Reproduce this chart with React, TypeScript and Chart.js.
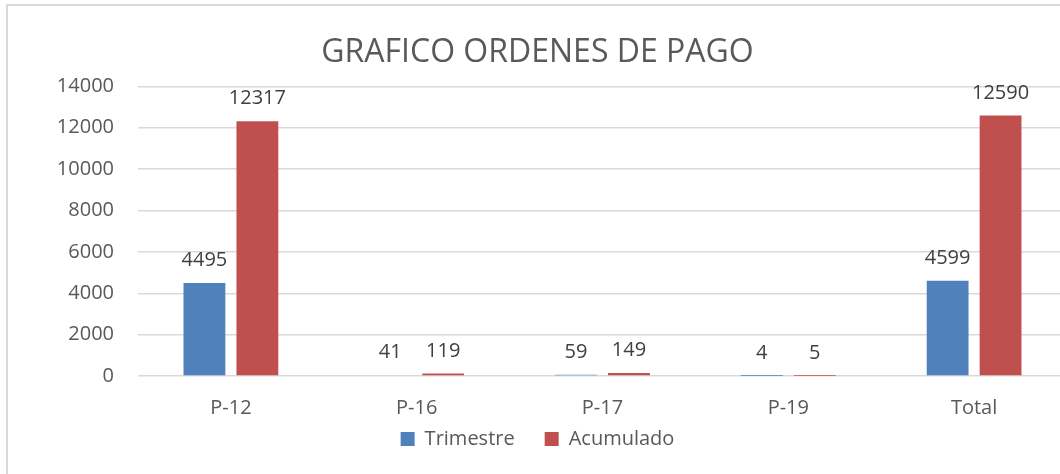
import React, { useEffect, useRef } from "react";
import { Chart, registerables } from "chart.js";

Chart.register(...registerables);

const categories = ["P-12", "P-16", "P-17", "P-19", "Total"];
const trimestre = [4495, 41, 59, 4, 4599];
const acumulado = [12317, 119, 149, 5, 12590];
const yTicks = [0, 2000, 4000, 6000, 8000, 10000, 12000, 14000];

const FONT = "'Open Sans', 'Noto Sans', sans-serif";

const dataLabels = {
  id: "dataLabels",
  afterDatasetsDraw(chart: any) {
    const ctx = chart.ctx;
    ctx.save();
    ctx.font = `20px ${FONT}`;
    ctx.fillStyle = "#404040";
    ctx.textAlign = "center";
    ctx.textBaseline = "alphabetic";
    chart.data.datasets.forEach((ds: any, i: number) => {
      const meta = chart.getDatasetMeta(i);
      meta.data.forEach((el: any, j: number) => {
        ctx.fillText(String(ds.data[j]), el.x, el.y - 17);
      });
    });
    ctx.restore();
  },
};

// pull the legend up so it sits close under the category labels
const legendShift = {
  id: "legendShift",
  afterLayout(chart: any) {
    const lg = chart.legend;
    if (lg) {
      lg.top -= 23;
      lg.bottom -= 23;
    }
  },
};

export default function App() {
  const ref = useRef<HTMLCanvasElement | null>(null);
  useEffect(() => {
    if (!ref.current) return;
    const chart = new Chart(ref.current, {
      type: "bar",
      data: {
        labels: categories,
        datasets: [
          {
            label: "Trimestre",
            data: trimestre,
            backgroundColor: "#4f81bd",
            categoryPercentage: 0.57,
            barPercentage: 0.79,
          },
          {
            label: "Acumulado",
            data: acumulado,
            backgroundColor: "#c0504d",
            categoryPercentage: 0.57,
            barPercentage: 0.79,
          },
        ],
      },
      options: {
        responsive: false,
        animation: false,
        layout: { padding: { left: 0, right: 3, top: 0, bottom: 0 } },
        plugins: {
          title: {
            display: true,
            text: "GRAFICO ORDENES DE PAGO",
            color: "#595959",
            font: { family: FONT, size: 32, weight: "normal" },
            padding: { top: 28, bottom: 14 },
          },
          legend: {
            position: "bottom",
            labels: {
              color: "#595959",
              font: { family: FONT, size: 20 },
              boxWidth: 14,
              boxHeight: 14,
              padding: 30,
            },
          },
          tooltip: { enabled: false },
        },
        scales: {
          x: {
            grid: { display: false, drawTicks: false },
            border: { display: false },
            afterFit(scale: any) {
              scale.height = 46;
            },
            ticks: {
              color: "#595959",
              font: { family: FONT, size: 20 },
              padding: 20,
            },
          },
          y: {
            min: 0,
            max: 14000,
            afterBuildTicks(scale: any) {
              scale.ticks = yTicks.map((v) => ({ value: v }));
            },
            afterFit(scale: any) {
              scale.width = 130;
            },
            grid: { color: "#d9d9d9", lineWidth: 1.5, drawTicks: false },
            border: { display: false },
            ticks: {
              color: "#595959",
              font: { family: FONT, size: 20 },
              padding: 24,
              callback: (v: any) => String(v),
            },
          },
        },
      },
      plugins: [dataLabels, legendShift],
    });
    return () => chart.destroy();
  }, []);

  return (
    <div
      style={{
        position: "fixed",
        left: 0,
        top: 0,
        width: 1060,
        height: 474,
        overflow: "hidden",
        background: "#fff",
      }}
    >
      <div
        style={{
          position: "absolute",
          left: 6,
          top: 4,
          width: 1064,
          height: 480,
          border: "2px solid #d9d9d9",
        }}
      >
        <canvas
          ref={ref}
          width={1062}
          height={476}
          style={{ position: "absolute", left: 0, top: 0, width: 1062, height: 476 }}
        />
      </div>
    </div>
  );
}
